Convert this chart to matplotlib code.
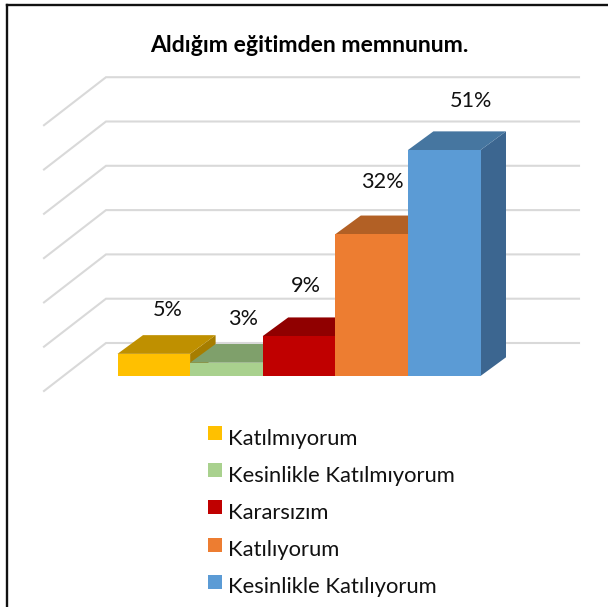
import matplotlib
matplotlib.use('Agg')
import matplotlib.pyplot as plt
from matplotlib.patches import Polygon, Rectangle

categories = ['Katılmıyorum', 'Kesinlikle Katılmıyorum', 'Kararsızım', 'Katılıyorum', 'Kesinlikle Katılıyorum']
values = [5, 3, 9, 32, 51]
labels = ['5%', '3%', '9%', '32%', '51%']
front_colors = ['#FFC000', '#A9D18E', '#C00000', '#ED7D31', '#5B9BD5']
top_colors = ['#BF9000', '#7FA06B', '#900000', '#B26025', '#4676A0']
side_colors = ['#A67D00', '#6E8B5C', '#7D0000', '#9A5320', '#3C6690']
grid_values = [0, 10, 20, 30, 40, 50, 60]

W, H = 608, 607
plt.rcParams['font.family'] = ['Lato', 'DejaVu Sans']
fig = plt.figure(figsize=(W / 100, H / 100), dpi=100, facecolor='white')

# axes spans the whole figure; data unit: x = bar slots, y = percent
PX_X, PX_Y = 72.6, 4.43
X0_PX, Y0_PX = 117.5, 376.0
ax = fig.add_axes([0, 0, 1, 1])
ax.set_xlim(-X0_PX / PX_X, (W - X0_PX) / PX_X)
ax.set_ylim((Y0_PX - H) / PX_Y, Y0_PX / PX_Y)
ax.axis('off')

def px(dx):
    return dx / PX_X
def py(dy):
    return dy / PX_Y

# gridlines on back wall and floor
grid_c = '#D9D9D9'
for g in grid_values:
    xs = [px(44 - X0_PX), px(106 - X0_PX), px(579 - X0_PX)]
    ys = [g - py(15), g + py(33), g + py(33)]
    ax.plot(xs, ys, color=grid_c, lw=1.5, solid_joinstyle='miter', zorder=1)

# 3D bars
DX, DY = px(25.5), py(18.7)
for i, (v, f, t, s) in enumerate(zip(values, front_colors, top_colors, side_colors)):
    z = 2 + i
    ax.add_patch(Polygon([(i + 1, 0), (i + 1 + DX, DY), (i + 1 + DX, v + DY), (i + 1, v)],
                         closed=True, fc=s, ec='none', zorder=z))
    ax.add_patch(Polygon([(i, v), (i + DX, v + DY), (i + 1 + DX, v + DY), (i + 1, v)],
                         closed=True, fc=t, ec='none', zorder=z))
    ax.add_patch(Rectangle((i, 0), 1, v, fc=f, ec='none', zorder=z + 0.5))

# data labels
label_x = [168, 243, 306, 382, 471]
label_y = [316, 325, 292, 188, 107]
for lab, lx, ly in zip(labels, label_x, label_y):
    ax.text(px(lx - X0_PX), py(Y0_PX - ly), lab, ha='center', va='baseline',
            fontsize=15.6, color='#111111', zorder=10)

# title
ax.text(px(309 - X0_PX), py(Y0_PX - 52), 'Aldığım eğitimden memnunum.', ha='center', va='baseline',
        fontsize=16.6, fontweight='bold', color='black', zorder=10)

# legend
leg_y = [433, 470, 507, 545, 582]
text_base = [445, 482, 519, 556, 593]
for c, name, ly, tb in zip(front_colors, categories, leg_y, text_base):
    ax.add_patch(Rectangle((px(208 - X0_PX), py(Y0_PX - ly - 7)), px(14), py(14), fc=c, ec='none', zorder=10))
    ax.text(px(228 - X0_PX), py(Y0_PX - tb), name, ha='left', va='baseline',
            fontsize=15.8, color='#111111', zorder=10)

# outer frame
ax.plot([px(6.5 - X0_PX), px(6.5 - X0_PX)], [py(Y0_PX - H), py(Y0_PX - 4.5)], color='#111111', lw=1.7, zorder=11)
ax.plot([px(6.5 - X0_PX), px(W - X0_PX)], [py(Y0_PX - 4.5), py(Y0_PX - 4.5)], color='#111111', lw=1.7, zorder=11)

fig.savefig('out.png', dpi=100, facecolor='white')
